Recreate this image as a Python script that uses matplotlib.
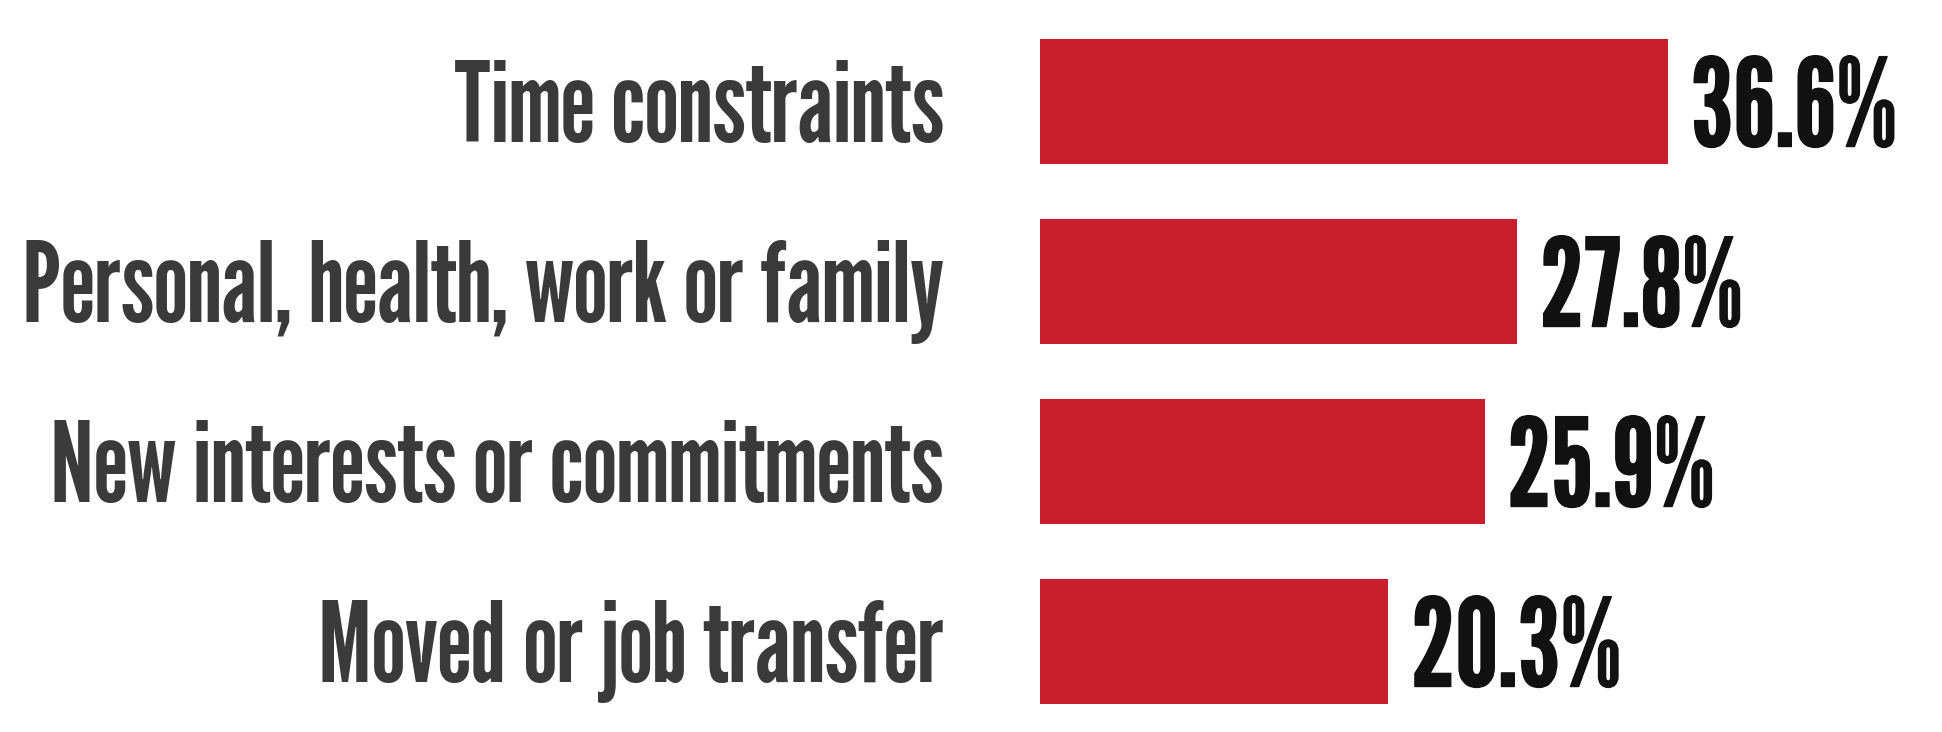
import matplotlib
matplotlib.use('Agg')
import matplotlib.pyplot as plt
import matplotlib.patheffects as pe
import numpy as np

reasons = ['Time constraints', 'Personal, health, work or family',
           'New interests or commitments', 'Moved or job transfer']
share = [36.6, 27.8, 25.9, 20.3]

plt.rcParams['font.family'] = ['League Gothic', 'DejaVu Sans']

fig = plt.figure(figsize=(19.42, 7.32), dpi=100)
ax = fig.add_axes([0.5355, 0.0007, 0.4420, 0.9836])

y = np.arange(len(reasons))
bars = ax.barh(y, share, height=0.69, color='#c91e2c')
vals = ax.bar_label(bars, labels=[f'{v}%' for v in share], padding=16,
                    fontsize=88, color='#111111',
                    path_effects=[pe.withStroke(linewidth=1, foreground='#111111')])
for t in vals:
    t.set_va('center_baseline')

ax.set_yticks(y, reasons)
ax.tick_params(axis='y', length=0, pad=69, labelsize=80, labelcolor='#3a3a3a')
ax.set_xticks([])
ax.set_xlim(0, 50)
ax.set_ylim(3.5, -0.5)
for s in ax.spines.values():
    s.set_visible(False)

fig.savefig('out.png', dpi=100)
